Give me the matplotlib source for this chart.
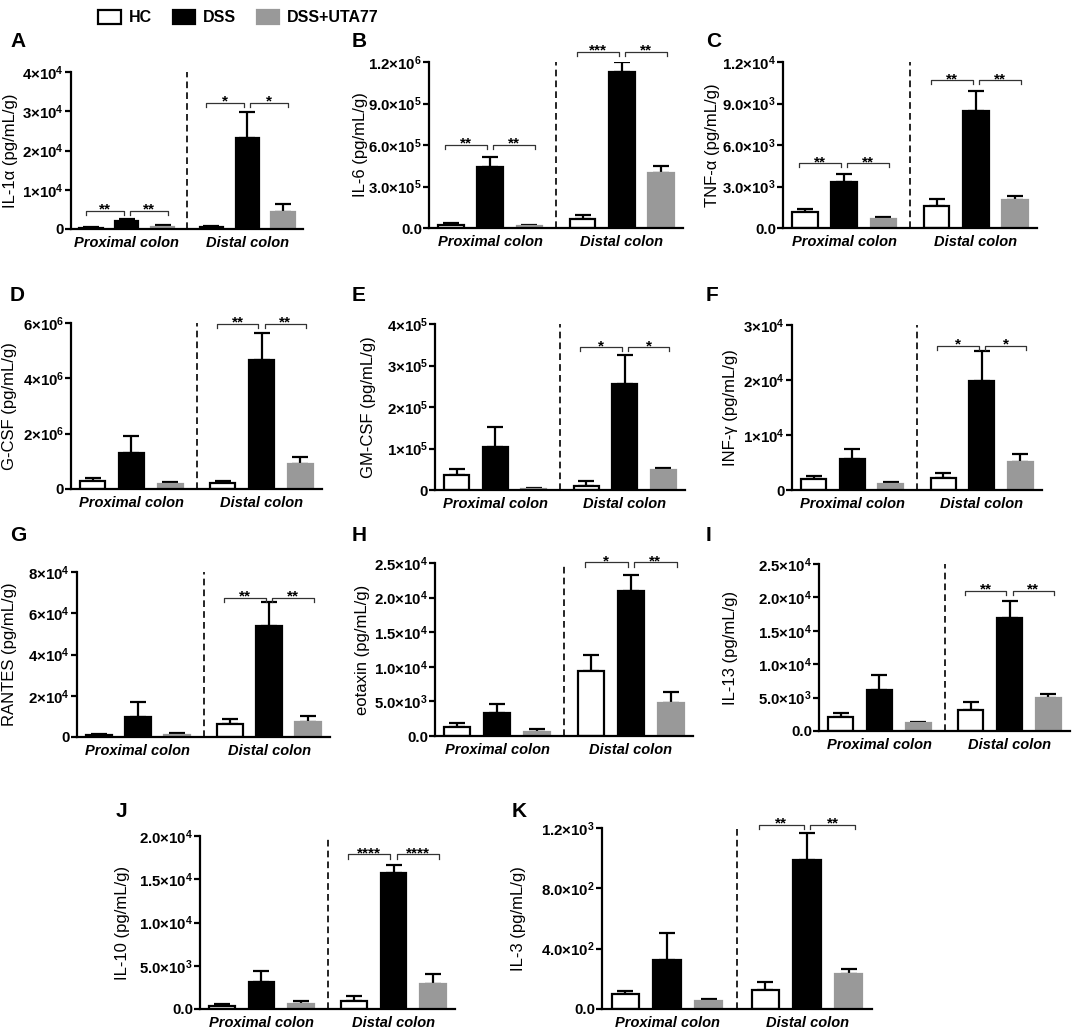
import matplotlib.pyplot as plt
from matplotlib.patches import Patch
import numpy as np

plt.rcParams['font.family'] = ['Liberation Sans', 'DejaVu Sans']
plt.rcParams['font.weight'] = 'bold'
plt.rcParams['mathtext.fontset'] = 'custom'
plt.rcParams['mathtext.rm'] = 'Liberation Sans:bold'
plt.rcParams['mathtext.bf'] = 'Liberation Sans:bold'
plt.rcParams['mathtext.it'] = 'Liberation Sans:bold:italic'

groups = ['HC', 'DSS', 'DSS+UTA77']
sites = ['Proximal colon', 'Distal colon']

# order: proximal HC, DSS, DSS+UTA77, distal HC, DSS, DSS+UTA77
il1a = [300, 2100, 600, 420, 23200, 4240]
il1a_sem = [150, 350, 400, 340, 6600, 2030]
il6 = [19000, 439000, 12000, 65000, 1128000, 401000]
il6_sem = [17000, 77000, 10000, 26000, 72000, 48000]
tnfa = [1130, 3290, 650, 1580, 8450, 2040]
tnfa_sem = [240, 600, 140, 510, 1460, 240]
gcsf = [0.30e6, 1.29e6, 0.17e6, 0.205e6, 4.67e6, 0.906e6]
gcsf_sem = [0.086e6, 0.64e6, 0.07e6, 0.075e6, 0.97e6, 0.244e6]
gmcsf = [35400, 103000, 2400, 9700, 256000, 48300]
gmcsf_sem = [15300, 50000, 1600, 12000, 69000, 5600]
infg = [2000, 5640, 1030, 2120, 19900, 5090]
infg_sem = [600, 1810, 360, 1030, 5400, 1510]
rantes = [1130, 9700, 1130, 6460, 54000, 7430]
rantes_sem = [470, 7300, 670, 2260, 11600, 2870]
eotaxin = [1300, 3340, 630, 9380, 20900, 4790]
eotaxin_sem = [590, 1300, 340, 2320, 2400, 1640]
il13 = [2150, 6100, 1200, 3100, 16950, 4900]
il13_sem = [600, 2250, 200, 1250, 2450, 650]
il10 = [350, 3120, 540, 960, 15770, 2920]
il10_sem = [190, 1230, 380, 540, 850, 1160]
il3 = [97, 323, 53, 126, 990, 230]
il3_sem = [25, 184, 16, 51, 177, 33]

ylabels = ['IL-1α (pg/mL/g)', 'IL-6 (pg/mL/g)', 'TNF-α (pg/mL/g)',
           'G-CSF (pg/mL/g)', 'GM-CSF (pg/mL/g)', 'INF-γ (pg/mL/g)',
           'RANTES (pg/mL/g)', 'eotaxin (pg/mL/g)', 'IL-13 (pg/mL/g)',
           'IL-10 (pg/mL/g)', 'IL-3 (pg/mL/g)']
letters = list('ABCDEFGHIJK')

yticks = [
    [0, 1e4, 2e4, 3e4, 4e4],
    [0, 3e5, 6e5, 9e5, 1.2e6],
    [0, 3e3, 6e3, 9e3, 1.2e4],
    [0, 2e6, 4e6, 6e6],
    [0, 1e5, 2e5, 3e5, 4e5],
    [0, 1e4, 2e4, 3e4],
    [0, 2e4, 4e4, 6e4, 8e4],
    [0, 5e3, 1e4, 1.5e4, 2e4, 2.5e4],
    [0, 5e3, 1e4, 1.5e4, 2e4, 2.5e4],
    [0, 5e3, 1e4, 1.5e4, 2e4],
    [0, 4e2, 8e2, 1.2e3],
]
ytick_labels = [
    ['0', '1×10$^{4}$', '2×10$^{4}$', '3×10$^{4}$', '4×10$^{4}$'],
    ['0.0', '3.0×10$^{5}$', '6.0×10$^{5}$', '9.0×10$^{5}$', '1.2×10$^{6}$'],
    ['0.0', '3.0×10$^{3}$', '6.0×10$^{3}$', '9.0×10$^{3}$', '1.2×10$^{4}$'],
    ['0', '2×10$^{6}$', '4×10$^{6}$', '6×10$^{6}$'],
    ['0', '1×10$^{5}$', '2×10$^{5}$', '3×10$^{5}$', '4×10$^{5}$'],
    ['0', '1×10$^{4}$', '2×10$^{4}$', '3×10$^{4}$'],
    ['0', '2×10$^{4}$', '4×10$^{4}$', '6×10$^{4}$', '8×10$^{4}$'],
    ['0.0', '5.0×10$^{3}$', '1.0×10$^{4}$', '1.5×10$^{4}$', '2.0×10$^{4}$', '2.5×10$^{4}$'],
    ['0.0', '5.0×10$^{3}$', '1.0×10$^{4}$', '1.5×10$^{4}$', '2.0×10$^{4}$', '2.5×10$^{4}$'],
    ['0.0', '5.0×10$^{3}$', '1.0×10$^{4}$', '1.5×10$^{4}$', '2.0×10$^{4}$'],
    ['0.0', '4.0×10$^{2}$', '8.0×10$^{2}$', '1.2×10$^{3}$'],
]

# significance: (bracket height, left stars, right stars) per site, None = no bracket
sig_prox = [(4660, '**', '**'), (600000, '**', '**'), (4680, '**', '**'),
            None, None, None, None, None, None, None, None]
sig_dist = [(32100, '*', '*'), (1272000, '***', '**'), (10680, '**', '**'),
            (5.97e6, '**', '**'), (3.44e5, '*', '*'), (26200, '*', '*'),
            (67400, '**', '**'), (25100, '*', '**'), (21000, '**', '**'),
            (17880, '****', '****'), (1222, '**', '**')]

means = [il1a, il6, tnfa, gcsf, gmcsf, infg, rantes, eotaxin, il13, il10, il3]
sems = [il1a_sem, il6_sem, tnfa_sem, gcsf_sem, gmcsf_sem, infg_sem,
        rantes_sem, eotaxin_sem, il13_sem, il10_sem, il3_sem]

W, H = 1072, 1030
# axes boxes in pixels: left, right, top, bottom
boxes = [(71, 303, 72, 229), (429, 683, 62, 228), (783, 1037, 62, 228),
         (71, 322, 323, 489), (435, 685, 324, 490), (792, 1042, 325, 490),
         (77, 330, 572, 737), (435, 693, 563, 736), (819, 1070, 564, 731),
         (200, 455, 836, 1009), (602, 872, 828, 1009)]
label_x = [10, 361, 712, 10, 369, 731, 10, 362, 731, 122, 518]
letter_pos = [(10, 32), (352, 32), (706, 32), (10, 286), (352, 286), (706, 286),
              (10, 526), (352, 526), (706, 526), (116, 802), (512, 802)]

x = np.array([0, 1, 2, 3.36, 4.36, 5.36])
faces = ['white', 'black', '#999999'] * 2
edges = ['black', 'black', '#999999'] * 2

fig = plt.figure(figsize=(W / 100, H / 100), dpi=100)


def bracket(ax, x0, x1, y, stars, drop):
    ax.plot([x0, x0, x1, x1], [y - drop, y, y, y - drop], color='#333333',
            lw=0.9, clip_on=False)
    ax.annotate(stars, ((x0 + x1) / 2, y), xytext=(0, -2),
                textcoords='offset points', ha='center', va='baseline',
                fontsize=11, annotation_clip=False)


for i in range(11):
    l, r, t, b = boxes[i]
    ax = fig.add_axes([l / W, 1 - b / H, (r - l) / W, (b - t) / H])
    ymax = yticks[i][-1]
    ax.bar(x, means[i], width=0.65, color=faces, edgecolor=edges, linewidth=1.6,
           zorder=2)
    ax.errorbar(x, means[i], yerr=[np.zeros(6), sems[i]], fmt='none',
                ecolor='black', elinewidth=1.6, capsize=6, capthick=1.6,
                zorder=1)
    ax.set_xlim(-0.56, 5.92)
    ax.set_ylim(0, ymax)
    ax.axvline((x[2] + x[3]) / 2, color='black', lw=1.2, ls=(0, (4, 2.5)))
    for s in ['top', 'right']:
        ax.spines[s].set_visible(False)
    for s in ['left', 'bottom']:
        ax.spines[s].set_linewidth(1.6)
    ax.set_yticks(yticks[i], ytick_labels[i], fontsize=10.8)
    ax.tick_params(axis='y', width=1.6, length=4, pad=1)
    ax.set_xticks([x[1], x[4]], sites, fontsize=10.5, fontstyle='italic')
    ax.tick_params(axis='x', length=0, pad=5)
    ax.set_ylabel(ylabels[i], fontsize=12, va='center')
    ax.yaxis.set_label_coords((label_x[i] - l) / (r - l), 0.5)
    drop = 0.025 * ymax
    for sig, k in [(sig_prox[i], 0), (sig_dist[i], 3)]:
        if sig is None:
            continue
        y, s1, s2 = sig
        bracket(ax, x[k] - 0.15, x[k + 1] - 0.08, y, s1, drop)
        bracket(ax, x[k + 1] + 0.08, x[k + 2] + 0.15, y, s2, drop)
    lx, ly = letter_pos[i]
    fig.text(lx / W, 1 - ly / H, letters[i], fontsize=15, va='top', ha='left')

handles = [Patch(facecolor=faces[j], edgecolor='black' if j < 2 else faces[j],
                 linewidth=1.6) for j in range(3)]
fig.legend(handles, groups, loc='upper left', bbox_to_anchor=(84 / W, 1.004),
           ncol=3, frameon=False, fontsize=11.5, handlelength=1.4,
           handleheight=0.9, columnspacing=1.3, handletextpad=0.5)

fig.savefig('out.png', dpi=100)
